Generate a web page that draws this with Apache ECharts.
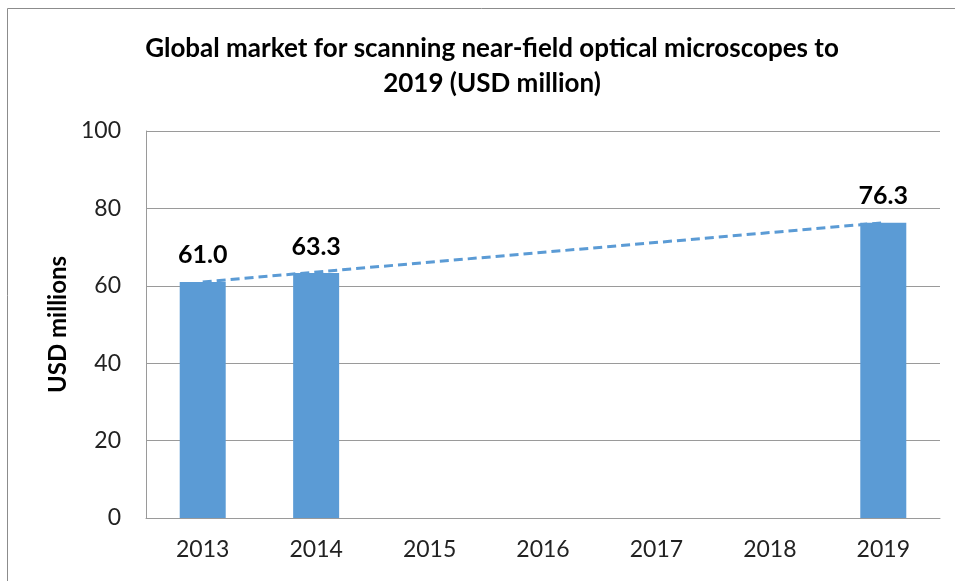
<!DOCTYPE html>
<html>
<head>
<meta charset="utf-8">
<script src="https://cdn.jsdelivr.net/npm/echarts@6/dist/echarts.min.js"></script>
<style>
  html, body { margin: 0; padding: 0; background: #fff; }
  #chart { width: 955px; height: 581px; }
</style>
</head>
<body>
<div id="chart"></div>
<script>
const years = ["2013", "2014", "2015", "2016", "2017", "2018", "2019"];
const market = [61.0, 63.3, null, null, null, null, 76.3];
// trend line drawn between first and last known values
const trend = [61.0, null, null, null, null, null, 76.3];
const yTicks = [0, 20, 40, 60, 80, 100];

const font = "Lato, 'Liberation Sans', sans-serif";
const blue = "#5B9BD5";

const myChart = echarts.init(document.getElementById("chart"));
myChart.setOption({
  animation: false,
  textStyle: { fontFamily: font },
  title: {
    text: "Global market for scanning near-field optical microscopes to\n2019 (USD million)",
    left: 487,
    top: 26,
    textAlign: "center",
    textStyle: { fontSize: 26, fontWeight: "bold", color: "#000", lineHeight: 35, fontFamily: font }
  },
  graphic: [{
    type: "rect",
    shape: { x: 7.5, y: 8.5, width: 1000, height: 700 },
    style: { fill: "none", stroke: "#8c8c8c", lineWidth: 1 },
    silent: true
  }],
  grid: { left: 146, right: 15, top: 131, bottom: 63 },
  xAxis: {
    type: "category",
    data: years,
    axisLine: { lineStyle: { color: "#9a9a9a" } },
    axisTick: { show: false },
    axisLabel: { fontSize: 23, color: "#222", margin: 20, fontFamily: font }
  },
  yAxis: {
    type: "value",
    min: yTicks[0],
    max: yTicks[yTicks.length - 1],
    interval: 20,
    name: "USD millions",
    nameLocation: "middle",
    nameGap: 76,
    nameTextStyle: { fontSize: 24, fontWeight: "bold", color: "#000", fontFamily: font },
    axisLine: { show: true, lineStyle: { color: "#9a9a9a" } },
    axisTick: { show: false },
    splitLine: { lineStyle: { color: "#9a9a9a" } },
    axisLabel: { fontSize: 23, color: "#222", margin: 25, fontFamily: font }
  },
  series: [
    {
      name: "Market",
      type: "bar",
      data: market,
      barWidth: 46,
      itemStyle: { color: blue },
      label: {
        show: true,
        position: "top",
        distance: 14,
        formatter: p => p.value.toFixed(1),
        fontSize: 25,
        fontWeight: "bold",
        color: "#000",
        fontFamily: font
      }
    },
    {
      name: "Trend",
      type: "line",
      data: trend,
      connectNulls: true,
      symbol: "none",
      lineStyle: { color: blue, width: 3, type: [9, 5] },
      z: 3
    }
  ]
});
</script>
</body>
</html>
